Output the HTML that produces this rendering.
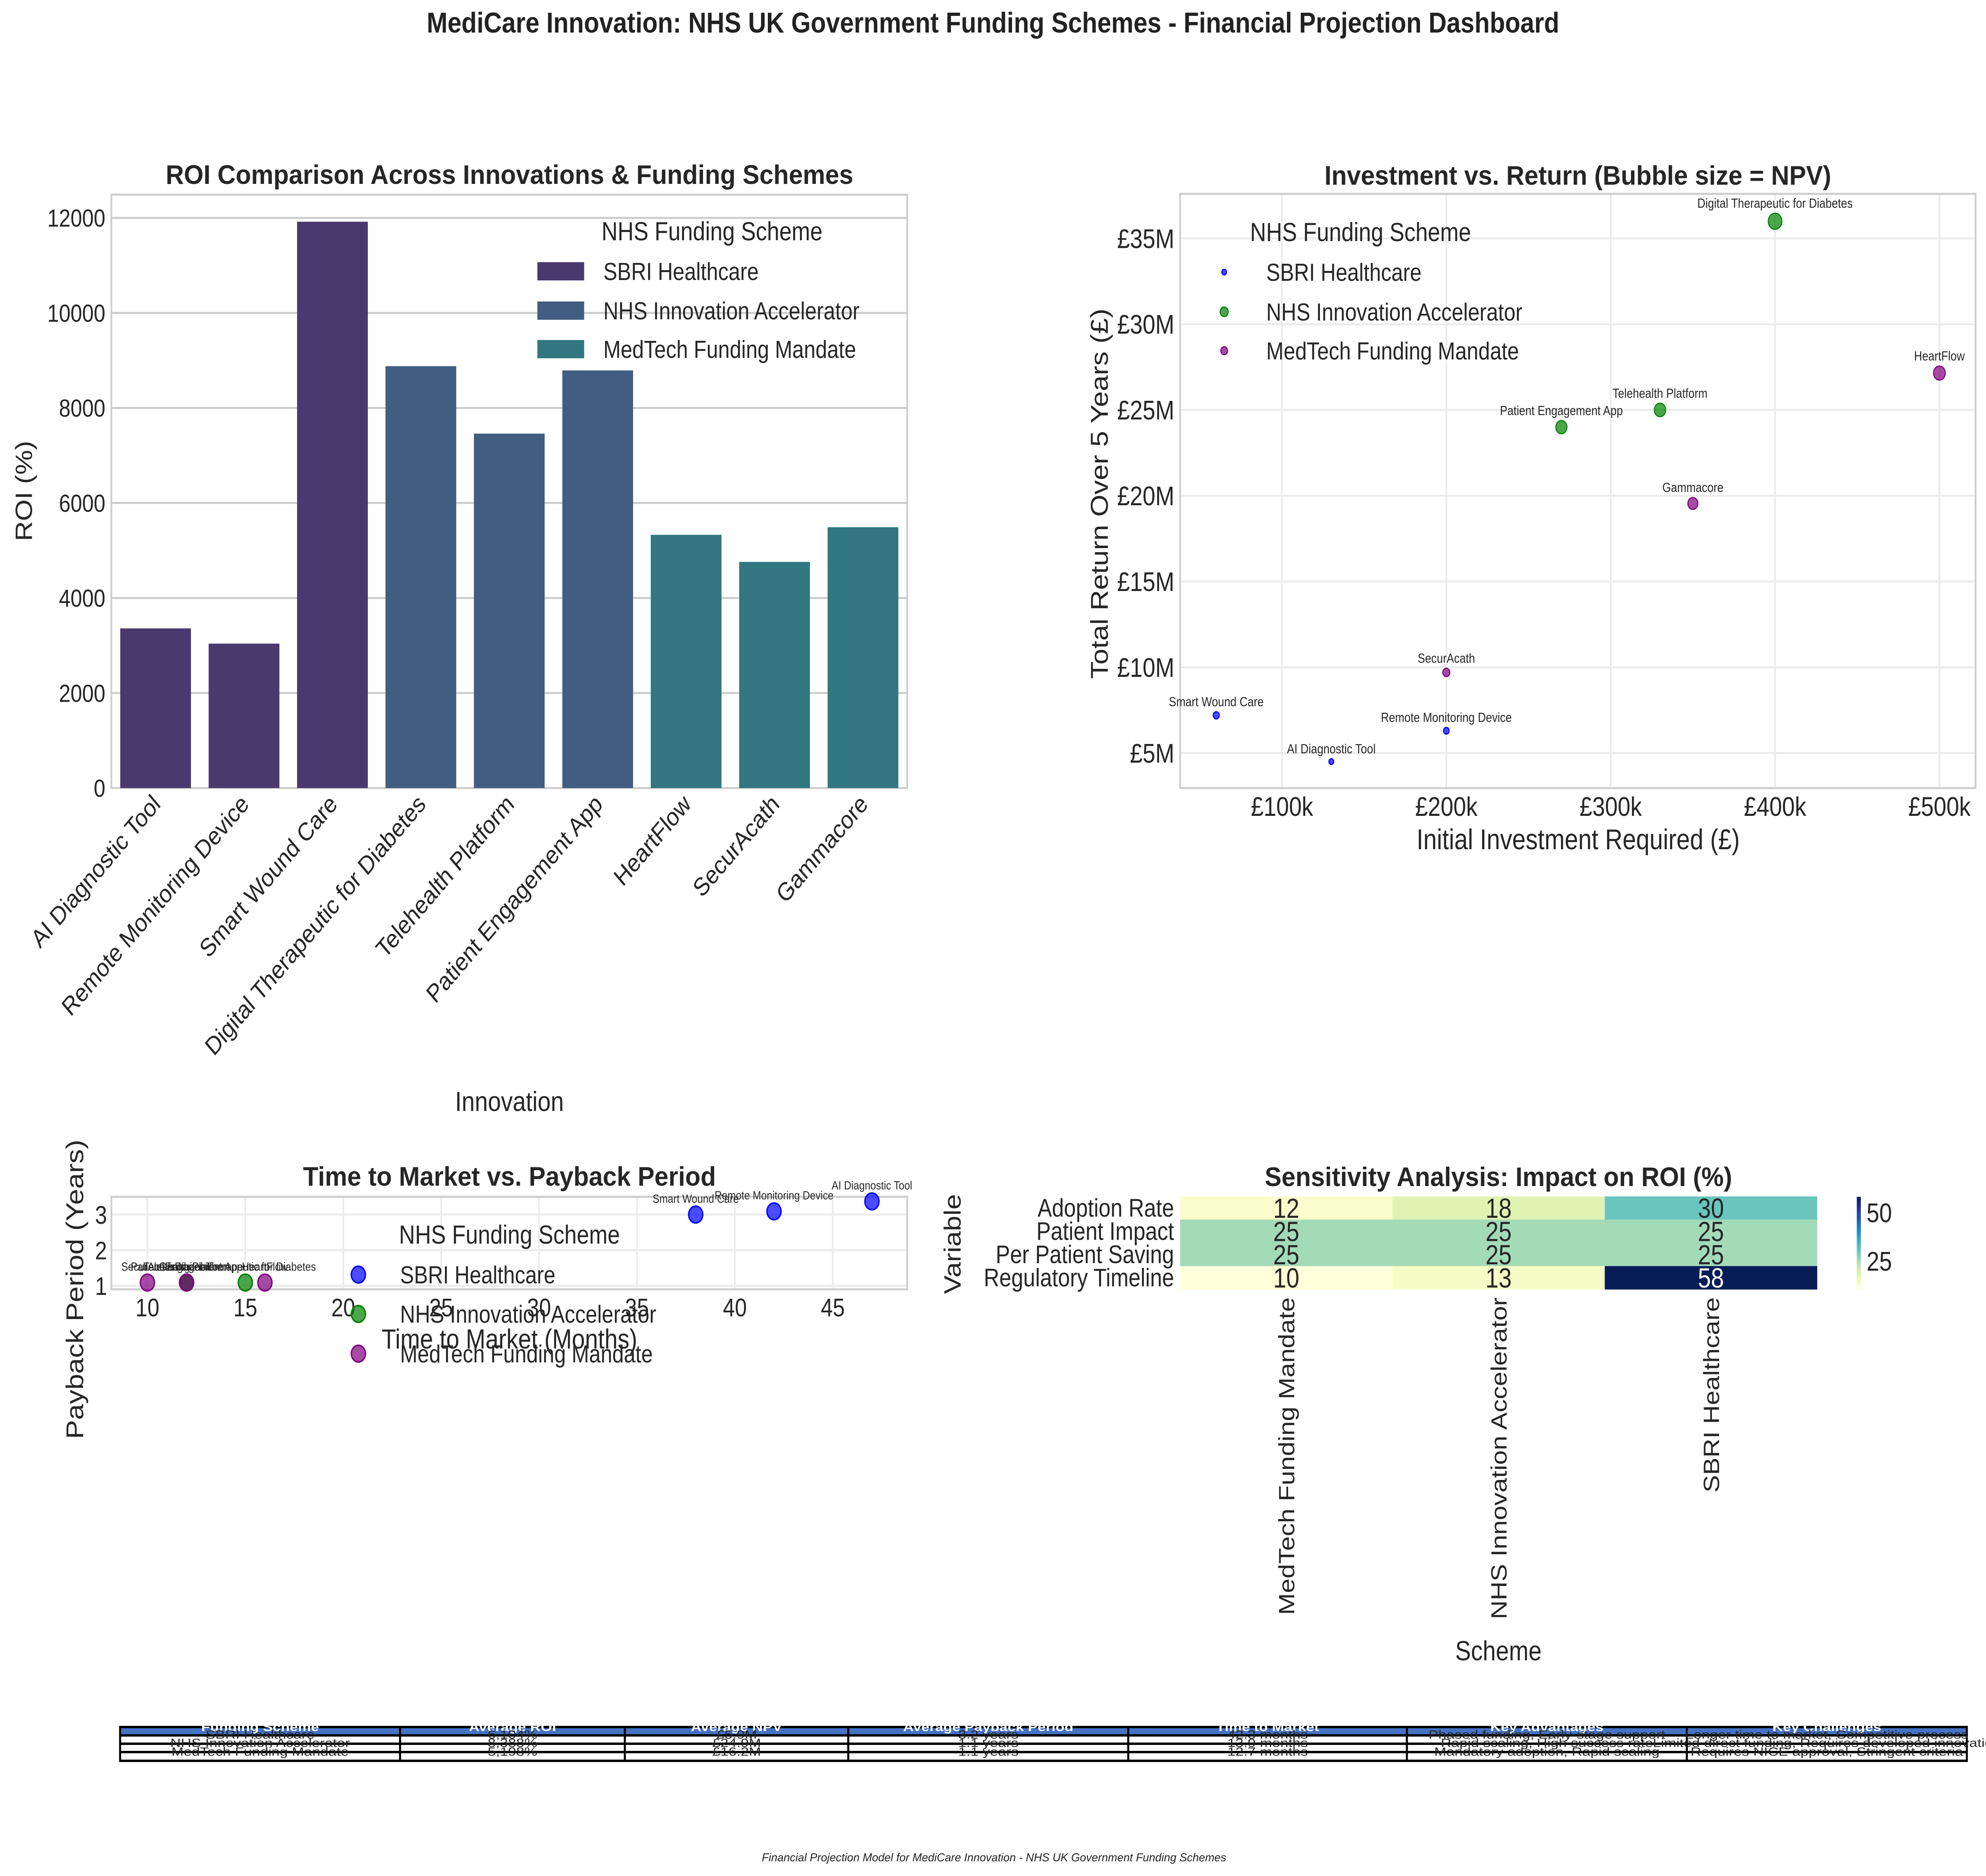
<!DOCTYPE html>
<html><head><meta charset="utf-8">
<style>
html,body{margin:0;padding:0;background:#fff;overflow:hidden;width:100%;height:100%;}
svg{display:block;font-family:"Liberation Sans",sans-serif;width:100vw;height:100vh;}
</style></head>
<body>
<svg id="root" xmlns="http://www.w3.org/2000/svg" viewBox="0 0 5902 4723" preserveAspectRatio="none">
<rect width="5902" height="4723" fill="#fff"/>
<text x="2951" y="82" text-anchor="middle" font-size="72" font-weight="bold" fill="#222" textLength="3366" lengthAdjust="spacingAndGlyphs">MediCare Innovation: NHS UK Government Funding Schemes - Financial Projection Dashboard</text>
<text x="2954" y="4686" text-anchor="middle" font-size="29" font-style="italic" fill="#222" textLength="1380" lengthAdjust="spacingAndGlyphs">Financial Projection Model for MediCare Innovation - NHS UK Government Funding Schemes</text>
<g id="bar"></g><g id="sc"></g><g id="tm"></g><g id="hm"></g><g id="tb"></g>
</svg>
<script>
// ---- Bar chart data ----
const barCategories = ["AI Diagnostic Tool","Remote Monitoring Device","Smart Wound Care","Digital Therapeutic for Diabetes","Telehealth Platform","Patient Engagement App","HeartFlow","SecurAcath","Gammacore"];
const barRoi = [3360,3040,11920,8880,7460,8790,5330,4760,5490];
const barScheme = [0,0,0,1,1,1,2,2,2];
const schemeNames = ["SBRI Healthcare","NHS Innovation Accelerator","MedTech Funding Mandate"];
const roiTicks = [0,2000,4000,6000,8000,10000,12000];
// ---- Scatter data ----
const scNames = ["AI Diagnostic Tool","Remote Monitoring Device","Smart Wound Care","SecurAcath","Gammacore","Patient Engagement App","Telehealth Platform","HeartFlow","Digital Therapeutic for Diabetes"];
const scInvest = [130000,200000,60000,200000,350000,270000,330000,500000,400000];
const scReturn = [4.5,6.3,7.2,9.7,19.55,24.0,25.0,27.15,36.0];
const scNpv = [4.4,6.1,7.1,9.5,19.2,23.7,24.7,26.7,35.6];
const scScheme = [0,0,0,2,2,1,1,2,1];
const scXTicks = [100000,200000,300000,400000,500000];
const scXTickLabels = ["£100k","£200k","£300k","£400k","£500k"];
const scYTicks = [5,10,15,20,25,30,35];
const scYTickLabels = ["£5M","£10M","£15M","£20M","£25M","£30M","£35M"];
// ---- Time to market data ----
const tmNames = ["AI Diagnostic Tool","Remote Monitoring Device","Smart Wound Care","SecurAcath","Patient Engagement App","Telehealth Platform","Gammacore","Digital Therapeutic for Diabetes","HeartFlow"];
const tmMonths = [47,42,38,10,12,12,12,15,16];
const tmPayback = [3.37,3.09,3.0,1.09,1.09,1.09,1.09,1.09,1.09];
const tmScheme = [0,0,0,2,1,1,2,1,2];
const tmXTicks = [10,15,20,25,30,35,40,45];
const tmYTicks = [1,2,3];
// ---- Heatmap data ----
const hmRows = ["Adoption Rate","Patient Impact","Per Patient Saving","Regulatory Timeline"];
const hmCols = ["MedTech Funding Mandate","NHS Innovation Accelerator","SBRI Healthcare"];
const hmValues = [[12,18,30],[25,25,25],[25,25,25],[10,13,58]];
const hmCbTicks = [25,50];
// ---- Table data ----
const tbHeader = ["Funding Scheme","Average ROI","Average NPV","Average Payback Period","Time to Market","Key Advantages","Key Challenges"];
const tbRows = [
 ["SBRI Healthcare","6,104%","£5.9M","3.2 years","42.3 months","Phased funding, Early-stage support","Longer time to market, Competitive process"],
 ["NHS Innovation Accelerator","8,388%","£24.9M","1.1 years","13.9 months","Rapid scaling, High success rate","Limited direct funding, Requires developed innovation"],
 ["MedTech Funding Mandate","5,198%","£16.2M","1.1 years","12.7 months","Mandatory adoption, Rapid scaling","Requires NICE approval, Stringent criteria"]];

const NS="http://www.w3.org/2000/svg";
function el(parent,tag,attrs,txt){const e=document.createElementNS(NS,tag);for(const k in attrs)e.setAttribute(k,attrs[k]);if(txt!==undefined)e.textContent=txt;parent.appendChild(e);return e;}
const TXT="#262626";

// ================= BAR CHART =================
(function(){
 const g=document.getElementById('bar');
 const L=331,R=2696,T=490,B=1984;
 const ymax=12490;
 const y=v=>B-(v/ymax)*(B-T);
 const step=(R-L)/barCategories.length;
 const x=i=>L+step*(i+0.5);
 const barColors=["#48396f","#415d82","#32767f"];
 roiTicks.forEach(t=>{
  const gl=el(g,'line',{x1:L,x2:R,y1:y(t),y2:y(t),stroke:"#cccccc","stroke-width":5});
  
  
  const tl=el(g,'text',{x:L-18,y:y(t)+22,"text-anchor":"end","font-size":62,fill:TXT},String(t));
  
  
 });
 const fr=el(g,'rect',{x:L,y:T,width:R-L,height:B-T,fill:"none",stroke:"#cccccc","stroke-width":5});
 
 
 barCategories.forEach((c,i)=>{
  const w=step*0.8;
  const r=el(g,'rect',{x:x(i)-w/2,y:y(barRoi[i]),width:w,height:B-y(barRoi[i]),fill:barColors[barScheme[i]]});
  
  
  const t=el(g,'text',{x:0,y:0,"text-anchor":"end","font-size":64,fill:TXT,transform:`translate(${x(i)+18},${B+44}) rotate(-45)`},c);
  
  
 });
 const t1=el(g,'text',{x:1514,y:463,"text-anchor":"middle","font-size":68,"font-weight":"bold",fill:TXT,textLength:2043,lengthAdjust:"spacingAndGlyphs"},"ROI Comparison Across Innovations & Funding Schemes");
 
 
 const yl=el(g,'text',{x:0,y:0,"text-anchor":"middle","font-size":70,fill:TXT,transform:"translate(95,1236) rotate(-90)"},"ROI (%)");
 
 
 const xl=el(g,'text',{x:1514,y:2797,"text-anchor":"middle","font-size":70,fill:TXT},"Innovation");
 
 
 const lt=el(g,'text',{x:2116,y:605,"text-anchor":"middle","font-size":66,fill:TXT},"NHS Funding Scheme");
 
 
 const ly=[683,782,879];
 schemeNames.forEach((s,k)=>{
  const p=el(g,'rect',{x:1597,y:ly[k]-23,width:139,height:46,fill:barColors[k]});
  
  
  const lt2=el(g,'text',{x:1793,y:ly[k]+22,"font-size":62,fill:TXT},s);
  
  
 });
})();

// ================= SCATTER =================
(function(){
 const g=document.getElementById('sc');
 const L=3507,R=5871,T=488,B=1984;
 const xmin=38000,xmax=522000,ymin=2.96,ymax=37.6;
 const x=v=>L+(v-xmin)/(xmax-xmin)*(R-L);
 const y=v=>B-(v-ymin)/(ymax-ymin)*(B-T);
 const cols=["#0000ff","#008000","#800080"];
 scXTicks.forEach((t,i)=>{
  const gl=el(g,'line',{x1:x(t),x2:x(t),y1:T,y2:B,stroke:"#ebebeb","stroke-width":5});
  
  
  const tl=el(g,'text',{x:x(t),y:2054,"text-anchor":"middle","font-size":68,fill:TXT},scXTickLabels[i]);
  
  
 });
 scYTicks.forEach((t,i)=>{
  const gl=el(g,'line',{x1:L,x2:R,y1:y(t),y2:y(t),stroke:"#ebebeb","stroke-width":5});
  
  
  const tl=el(g,'text',{x:3490,y:y(t)+24,"text-anchor":"end","font-size":68,fill:TXT},scYTickLabels[i]);
  
  
 });
 const fr=el(g,'rect',{x:L,y:T,width:R-L,height:B-T,fill:"none",stroke:"#cccccc","stroke-width":5});
 
 
 scNames.forEach((n,i)=>{
  const r=3.4*Math.sqrt(scNpv[i]);
  const c=el(g,'circle',{cx:x(scInvest[i]),cy:y(scReturn[i]),r:r,fill:cols[scScheme[i]],"fill-opacity":0.7,stroke:cols[scScheme[i]],"stroke-width":3});
  
  
  const t=el(g,'text',{x:x(scInvest[i]),y:y(scReturn[i])-r-14,"text-anchor":"middle","font-size":33,fill:TXT},n);
  
  
 });
 const t1=el(g,'text',{x:4689,y:465,"text-anchor":"middle","font-size":68,"font-weight":"bold",fill:TXT,textLength:1506,lengthAdjust:"spacingAndGlyphs"},"Investment vs. Return (Bubble size = NPV)");
 
 
 const yl=el(g,'text',{x:0,y:0,"text-anchor":"middle","font-size":72,fill:TXT,transform:"translate(3292,1243) rotate(-90)"},"Total Return Over 5 Years (£)");
 
 
 const xl=el(g,'text',{x:4690,y:2138,"text-anchor":"middle","font-size":72,fill:TXT},"Initial Investment Required (£)");
 
 
 const lt=el(g,'text',{x:3715,y:607,"text-anchor":"start","font-size":66,fill:TXT},"NHS Funding Scheme");
 
 
 const ly=[685,785,883],lr=[7,12,10];
 schemeNames.forEach((s,k)=>{
  const m=el(g,'circle',{cx:3638,cy:ly[k],r:lr[k],fill:cols[k],"fill-opacity":0.7,stroke:cols[k],"stroke-width":3});
  
  
  const t=el(g,'text',{x:3763,y:ly[k]+22,"font-size":62,fill:TXT},s);
  
  
 });
})();

// ================= TIME TO MARKET =================
(function(){
 const g=document.getElementById('tm');
 const L=331,R=2696,T=3013,B=3246;
 const xmin=8.16,xmax=48.8,ymin=0.9,ymax=3.5;
 const x=v=>L+(v-xmin)/(xmax-xmin)*(R-L);
 const y=v=>B-(v-ymin)/(ymax-ymin)*(B-T);
 const cols=["#0000ff","#008000","#800080"];
 tmXTicks.forEach(t=>{
  const gl=el(g,'line',{x1:x(t),x2:x(t),y1:T,y2:B,stroke:"#ebebeb","stroke-width":5});
  
  
  const tl=el(g,'text',{x:x(t),y:3314,"text-anchor":"middle","font-size":64,fill:TXT},String(t));
  
  
 });
 tmYTicks.forEach(t=>{
  const gl=el(g,'line',{x1:L,x2:R,y1:y(t),y2:y(t),stroke:"#ebebeb","stroke-width":5});
  
  
  const tl=el(g,'text',{x:318,y:y(t)+23,"text-anchor":"end","font-size":64,fill:TXT},String(t));
  
  
 });
 const fr=el(g,'rect',{x:L,y:T,width:R-L,height:B-T,fill:"none",stroke:"#cccccc","stroke-width":5});
 
 
 tmNames.forEach((n,i)=>{
  const c=el(g,'circle',{cx:x(tmMonths[i]),cy:y(tmPayback[i]),r:21,fill:cols[tmScheme[i]],"fill-opacity":0.7,stroke:cols[tmScheme[i]],"stroke-width":4});
  
  
  const t=el(g,'text',{x:x(tmMonths[i]),y:y(tmPayback[i])-30,"text-anchor":"middle","font-size":30,fill:TXT},n);
  
  
 });
 const t1=el(g,'text',{x:1514,y:2985,"text-anchor":"middle","font-size":68,"font-weight":"bold",fill:TXT,textLength:1227,lengthAdjust:"spacingAndGlyphs"},"Time to Market vs. Payback Period");
 
 
 const xl=el(g,'text',{x:1514,y:3395,"text-anchor":"middle","font-size":70,fill:TXT},"Time to Market (Months)");
 
 
 const yl=el(g,'text',{x:0,y:0,"text-anchor":"middle","font-size":72,fill:TXT,transform:"translate(247,3246) rotate(-90)"},"Payback Period (Years)");
 
 
 const lt=el(g,'text',{x:1514,y:3131,"text-anchor":"middle","font-size":66,fill:TXT},"NHS Funding Scheme");
 
 
 const ly=[3209,3308,3408];
 schemeNames.forEach((s,k)=>{
  const m=el(g,'circle',{cx:1065,cy:ly[k],r:21,fill:cols[k],"fill-opacity":0.7,stroke:cols[k],"stroke-width":4});
  
  
  const t=el(g,'text',{x:1189,y:ly[k]+22,"font-size":62,fill:TXT},s);
  
  
 });
})();

// ================= HEATMAP =================
(function(){
 const g=document.getElementById('hm');
 const L=3507,R=5400,T=3012,B=3246;
 const stops=["#ffffd9","#edf8b1","#c7e9b4","#7fcdbb","#41b6c4","#1d91c0","#225ea8","#253494","#081d58"];
 let vmin=Infinity,vmax=-Infinity;
 hmValues.forEach(r=>r.forEach(v=>{vmin=Math.min(vmin,v);vmax=Math.max(vmax,v);}));
 function hex(h){return [1,3,5].map(i=>parseInt(h.substr(i,2),16));}
 function cmap(t){t=Math.max(0,Math.min(1,t));const p=t*(stops.length-1);const i=Math.min(stops.length-2,Math.floor(p));const f=p-i;const a=hex(stops[i]),b=hex(stops[i+1]);return `rgb(${a.map((v,k)=>Math.round(v+(b[k]-v)*f)).join(',')})`;}
 const cw=(R-L)/hmCols.length,rh=(B-T)/hmRows.length;
 hmValues.forEach((row,ri)=>row.forEach((v,ci)=>{
  const t=(v-vmin)/(vmax-vmin);
  const c=el(g,'rect',{x:L+ci*cw,y:T+ri*rh,width:cw+0.5,height:rh+0.5,fill:cmap(t)});
  
  
  const tx=el(g,'text',{x:L+(ci+0.5)*cw,y:T+(ri+0.5)*rh+25,"text-anchor":"middle","font-size":70,fill:t>0.6?"#ffffff":TXT},String(v));
  
  
 }));
 hmRows.forEach((r,ri)=>{
  const t=el(g,'text',{x:3489,y:T+(ri+0.5)*rh+22,"text-anchor":"end","font-size":64,fill:TXT},r);
  
  
 });
 hmCols.forEach((c,ci)=>{
  const t=el(g,'text',{x:0,y:0,"text-anchor":"end","font-size":66,fill:TXT,transform:`translate(${L+(ci+0.5)*cw+24},3266) rotate(-90)`},c);
  
  
 });
 const defs=el(g,'defs',{});
 const lg=el(defs,'linearGradient',{id:'cbg',x1:0,y1:1,x2:0,y2:0});
 stops.forEach((s,i)=>el(lg,'stop',{offset:i/(stops.length-1),"stop-color":s}));
 const cbT=3013,cbB=3247;
 const cb=el(g,'rect',{x:5518,y:cbT,width:12,height:cbB-cbT,fill:"url(#cbg)"});
 
 
 hmCbTicks.forEach(v=>{
  const yy=cbB-(v-vmin)/(vmax-vmin)*(cbB-cbT);
  const t=el(g,'text',{x:5547,y:yy+25,"font-size":68,fill:TXT},String(v));
  
  
 });
 const t1=el(g,'text',{x:4453,y:2986,"text-anchor":"middle","font-size":68,"font-weight":"bold",fill:TXT,textLength:1389,lengthAdjust:"spacingAndGlyphs"},"Sensitivity Analysis: Impact on ROI (%)");
 
 
 const yl=el(g,'text',{x:0,y:0,"text-anchor":"middle","font-size":70,fill:TXT,transform:"translate(2855,3132) rotate(-90)"},"Variable");
 
 
 const xl=el(g,'text',{x:4453,y:4180,"text-anchor":"middle","font-size":70,fill:TXT},"Scheme");
 
 
})();

// ================= TABLE =================
(function(){
 const g=document.getElementById('tb');
 const colX=[357,1189,1857,2521,3353,4181,5013,5845];
 const rowY=[4348,4369,4390,4411,4433];
 for(let r=0;r<4;r++){
  for(let c=0;c<7;c++){
   const cell=el(g,'rect',{x:colX[c],y:rowY[r],width:colX[c+1]-colX[c],height:rowY[r+1]-rowY[r],fill:r===0?"#4472c4":"#ffffff",stroke:"#000","stroke-width":6});
   
   
  }
 }
 const textY=[4358,4377,4398,4420];
 const rows=[tbHeader].concat(tbRows);
 rows.forEach((row,r)=>row.forEach((v,c)=>{
  const cx=(colX[c]+colX[c+1])/2;
  const t=el(g,'text',{x:0,y:0,"text-anchor":"middle","font-size":30,fill:r===0?"#ffffff":TXT,"font-weight":r===0?"bold":"normal",transform:`translate(${cx},${textY[r]}) scale(1.45,1)`},v);
  
  
 }));
})();
</script>
</body></html>
